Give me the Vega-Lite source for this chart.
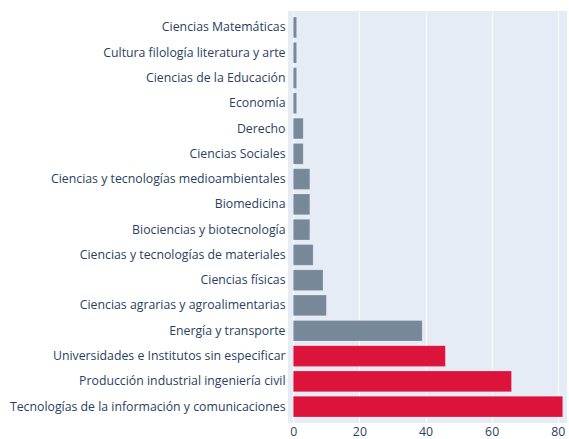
{
  "$schema": "https://vega.github.io/schema/vega-lite/v6.json",
  "autosize": "none",
  "width": 279,
  "height": 412,
  "padding": {"left": 288, "top": 11, "right": 2, "bottom": 16},
  "background": "white",
  "config": {
    "view": {"fill": "#E5ECF6", "stroke": null},
    "font": "Open Sans"
  },
  "data": {
    "values": [
      {"area": "Ciencias Matemáticas", "n": 1, "grupo": "otro"},
      {"area": "Cultura filología literatura y arte", "n": 1, "grupo": "otro"},
      {"area": "Ciencias de la Educación", "n": 1, "grupo": "otro"},
      {"area": "Economía", "n": 1, "grupo": "otro"},
      {"area": "Derecho", "n": 3, "grupo": "otro"},
      {"area": "Ciencias Sociales", "n": 3, "grupo": "otro"},
      {"area": "Ciencias y tecnologías medioambientales", "n": 5, "grupo": "otro"},
      {"area": "Biomedicina", "n": 5, "grupo": "otro"},
      {"area": "Biociencias y biotecnología", "n": 5, "grupo": "otro"},
      {"area": "Ciencias y tecnologías de materiales", "n": 6, "grupo": "otro"},
      {"area": "Ciencias físicas", "n": 9, "grupo": "otro"},
      {"area": "Ciencias agrarias y agroalimentarias", "n": 10, "grupo": "otro"},
      {"area": "Energía y transporte", "n": 39, "grupo": "otro"},
      {"area": "Universidades e Institutos sin especificar", "n": 46, "grupo": "top"},
      {"area": "Producción industrial ingeniería civil", "n": 66, "grupo": "top"},
      {"area": "Tecnologías de la información y comunicaciones", "n": 81.5, "grupo": "top"}
    ]
  },
  "mark": {"type": "bar", "strokeWidth": 0.5, "stroke": "#ffffff", "strokeOpacity": 0.4},
  "encoding": {
    "y": {
      "field": "area",
      "type": "nominal",
      "sort": null,
      "title": null,
      "scale": {"paddingInner": 0.18, "paddingOuter": 0.24},
      "axis": {
        "domain": false,
        "ticks": false,
        "grid": false,
        "labelFont": "Open Sans",
        "labelFontSize": 12.3,
        "labelColor": "#2a3f5f",
        "labelPadding": 3,
        "labelLimit": 320
      }
    },
    "x": {
      "field": "n",
      "type": "quantitative",
      "title": null,
      "scale": {"domain": [-1.6, 82.8], "nice": false, "zero": false},
      "axis": {
        "values": [0, 20, 40, 60, 80],
        "domain": false,
        "ticks": false,
        "gridColor": "#ffffff",
        "gridWidth": 1,
        "labelFont": "Open Sans",
        "labelFontSize": 12.3,
        "labelColor": "#2a3f5f",
        "labelPadding": 2
      }
    },
    "color": {
      "field": "grupo",
      "type": "nominal",
      "scale": {"domain": ["otro", "top"], "range": ["#778899", "#DC143C"]},
      "legend": null
    }
  }
}
